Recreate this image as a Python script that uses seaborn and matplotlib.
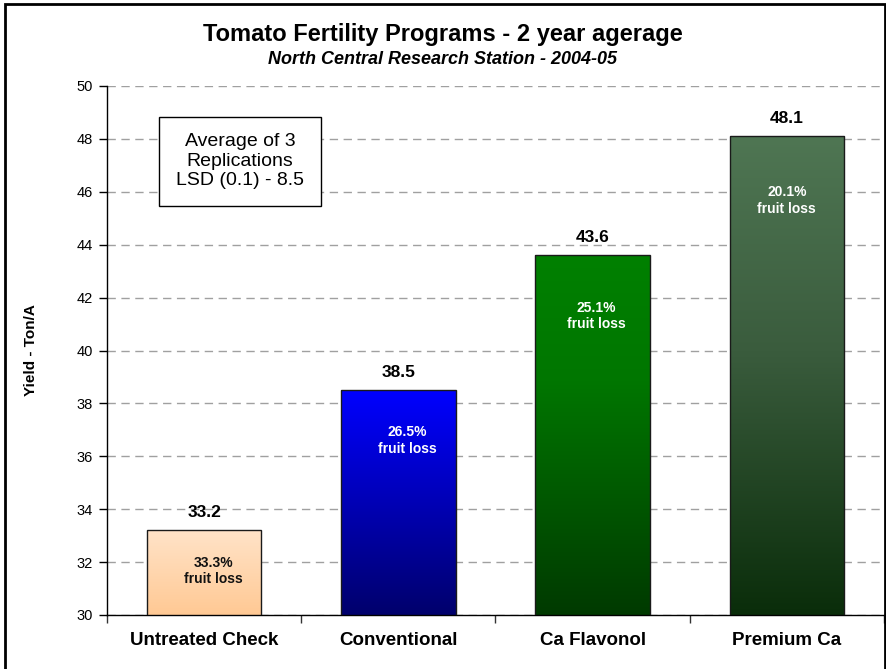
import numpy as np
import pandas as pd
import matplotlib
matplotlib.use("Agg")
import matplotlib.pyplot as plt
from matplotlib.colors import LinearSegmentedColormap
from matplotlib.patches import Rectangle
import seaborn as sns

# ---- data ----
categories = ["Untreated Check", "Conventional", "Ca Flavonol", "Premium Ca"]
yields = [33.2, 38.5, 43.6, 48.1]
fruit_loss = ["33.3%", "26.5%", "25.1%", "20.1%"]
y_ticks = [30, 32, 34, 36, 38, 40, 42, 44, 46, 48, 50]

title = "Tomato Fertility Programs - 2 year agerage"
subtitle = "North Central Research Station - 2004-05"
y_label = "Yield - Ton/A"
note = "Average of 3\nReplications\nLSD (0.1) - 8.5"

# ---- style / layout ----
gradients = [
    [(0.0, "#FFC994"), (1.0, "#FFE3C8")],
    [(0.0, "#00006C"), (1.0, "#0000FF")],
    [(0.0, "#003A00"), (0.65, "#007600"), (1.0, "#008000")],
    [(0.0, "#0A2D0A"), (0.55, "#3A5C3D"), (1.0, "#4F7653")],
]
inner_colors = ["#111111", "white", "white", "white"]
loss_text_y = [31.66, 36.60, 41.30, 45.67]
loss_text_dx = [0.046, 0.046, 0.02, 0.0]

sns.set_theme(style="white")
plt.rcParams["font.family"] = ["Liberation Sans", "DejaVu Sans"]

W, H = 887, 669
fig = plt.figure(figsize=(W / 100, H / 100), dpi=100)
ax = fig.add_axes([107 / W, (H - 615) / H, (884 - 107) / W, (615 - 86) / H])

df = pd.DataFrame({"Program": categories, "Yield": yields})
sns.barplot(data=df, x="Program", y="Yield", hue="Program", order=categories,
            hue_order=categories, palette=["#cccccc"] * 4, width=0.59,
            legend=False, ax=ax, edgecolor="#1a1a1a", linewidth=1.0)

ymin, ymax = 30, 50
ax.set_ylim(ymin, ymax)
ax.set_xlim(-0.5, len(categories) - 0.5)

# gradient fills
grad = np.linspace(0, 1, 256).reshape(-1, 1)
for i, p in enumerate(ax.patches[:len(categories)]):
    x0 = p.get_x()
    w = p.get_width()
    top = p.get_y() + p.get_height()
    cmap = LinearSegmentedColormap.from_list(f"g{i}", gradients[i])
    ax.imshow(grad, extent=[x0, x0 + w, ymin, top], origin="lower",
              aspect="auto", cmap=cmap, zorder=2)
    p.set_facecolor("none")
    p.set_zorder(3)

ax.set_ylim(ymin, ymax)
ax.set_xlim(-0.5, len(categories) - 0.5)

# value labels and fruit loss labels
for i, (v, fl) in enumerate(zip(yields, fruit_loss)):
    ax.annotate(f"{v:.1f}", (i, v), xytext=(0, 12.5), textcoords="offset points",
                ha="center", va="center", fontsize=12.5, fontweight="bold",
                color="black", zorder=5)
    ax.text(i + loss_text_dx[i], loss_text_y[i], f"{fl}\nfruit loss",
            ha="center", va="center", fontsize=10, fontweight="bold",
            color=inner_colors[i], linespacing=1.25, zorder=5)

# axes styling
ax.set_yticks(y_ticks)
ax.set_yticklabels([str(t) for t in y_ticks])
ax.yaxis.grid(True, linestyle=(0, (6, 4)), color="#a0a0a0", linewidth=1.0)
ax.xaxis.grid(False)
ax.set_axisbelow(True)
for s in ["top", "right"]:
    ax.spines[s].set_visible(False)
for s in ["left", "bottom"]:
    ax.spines[s].set_color("black")
    ax.spines[s].set_linewidth(1.0)
ax.tick_params(axis="y", which="major", direction="out", length=6, width=1,
               color="black", labelsize=10.5, labelcolor="black", pad=4, left=True)
ax.set_xticks(range(len(categories)))
ax.set_xticklabels(categories)
ax.tick_params(axis="x", which="major", length=0, labelsize=13.5, pad=12,
               labelcolor="black")
for lab in ax.get_xticklabels():
    lab.set_fontweight("bold")
ax.set_xticks([k - 0.5 for k in range(len(categories) + 1)], minor=True)
ax.tick_params(axis="x", which="minor", direction="out", length=6, width=1,
               color="#333333", bottom=True)
ax.set_xlabel("")
ax.set_ylabel(y_label, fontsize=11, fontweight="bold", color="black")
ax.yaxis.set_label_coords((38 - 107) / (884 - 107), 0.5)

# note box
ax.add_patch(Rectangle((52 / 777, (615 - 206) / 529), (321 - 159) / 777,
                       (206 - 117) / 529, transform=ax.transAxes,
                       facecolor="white", edgecolor="black", linewidth=1.0,
                       zorder=6))
ax.text((240 - 107) / 777, (615 - 161) / 529, note, transform=ax.transAxes,
        ha="center", va="center", fontsize=14, linespacing=1.18,
        color="black", zorder=7)

# titles
fig.text(443 / W, 1 - 35 / H, title, ha="center", va="center", fontsize=17,
         fontweight="bold", color="black")
fig.text(443 / W, 1 - 60 / H, subtitle, ha="center", va="center", fontsize=13,
         fontweight="bold", fontstyle="italic", color="black")

# outer chart frame
fig.patches.append(Rectangle((5 / W, -0.02), (885 - 5) / W, 1.02 - 4 / H,
                             transform=fig.transFigure, fill=False,
                             edgecolor="black", linewidth=2))

fig.savefig("out.png", dpi=100)
